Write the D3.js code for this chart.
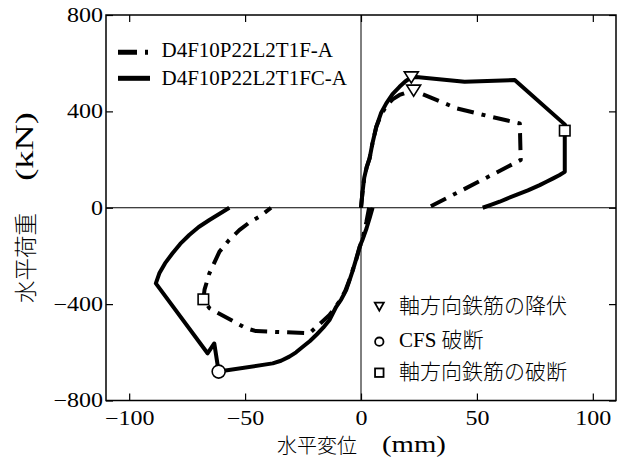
<!DOCTYPE html>
<html><head><meta charset="utf-8">
<script src="https://cdn.jsdelivr.net/npm/d3@7"></script>
<style>
body{margin:0;background:#fff}
text{font-family:"Liberation Serif","Times New Roman","Noto Sans CJK JP",serif;fill:#000}
</style></head><body>
<svg id="chart" width="622" height="459"></svg>
<script>
// Tick values
const xTicks = [-100, -50, 0, 50, 100];
const yTicks = [-800, -400, 0, 400, 800];

// D4F10P22L2T1FC-A (solid): positive half-cycle and negative half-cycle, [displacement mm, load kN]
const fcPositive = [[0,0],[0.6,60],[1.4,125],[2.5,170],[3.7,205],[5,270],[6.6,336],[8.6,392],[10.9,433],[13.6,472],[16.6,502],[19.2,525],[21.7,541],[23.8,543],[44.7,523],[66.3,530],[88,345],[87.9,320],[87.9,149],[85.5,135],[82.9,122],[80,108],[77.1,94],[72,72],[67,53],[63,38],[59.8,25],[56,12],[52.5,0]];
const fcNegative = [[5,0],[3.8,-40],[2.4,-85],[0.6,-134],[-0.6,-162],[-2,-210],[-3.5,-259],[-5,-302],[-6.4,-342],[-8.5,-380],[-10.7,-411],[-13.6,-466],[-16.3,-498],[-19,-525],[-22,-553],[-25.1,-577],[-28,-600],[-30.9,-618],[-34.5,-635],[-38.1,-646],[-61.4,-680],[-63.3,-563],[-66.2,-604],[-88.5,-314],[-87,-272],[-84.5,-230],[-81.3,-189],[-78,-150],[-74.1,-113],[-70,-80],[-65.4,-51],[-61,-25],[-56.8,0]];

// D4F10P22L2T1F-A (dash-dot)
const fPositive = [[0,0],[0.6,60],[1.4,125],[2.5,170],[3.7,205],[5,270],[6.6,336],[8.6,385],[10.9,422],[13.6,450],[16.6,468],[19.5,478],[22.7,486],[32,450],[41.1,413],[55,380],[68.5,350],[68.9,198],[28.9,0]];
const fNegative = [[3.5,0],[2.3,-60],[0.8,-125],[-0.6,-165],[-2,-213],[-3.7,-262],[-5.2,-305],[-6.8,-345],[-8.7,-380],[-10.7,-408],[-13.6,-445],[-22.2,-521],[-35,-516],[-45.3,-512],[-49.6,-500],[-65.4,-417],[-68,-380],[-67.5,-340],[-65.4,-272],[-61.1,-183],[-57,-135],[-52.5,-93],[-48,-60],[-43.8,-37],[-38.8,0]];

// Event markers
const yieldPoints = [[21.7,541],[22.7,486]];      // 軸方向鉄筋の降伏
const cfsRupturePoints = [[-61.4,-680]];          // CFS 破断
const barRupturePoints = [[87.9,320],[-68,-380]];  // 軸方向鉄筋の破断

const seriesNames = ["D4F10P22L2T1F-A", "D4F10P22L2T1FC-A"];
const markerNames = ["軸方向鉄筋の降伏", "CFS 破断", "軸方向鉄筋の破断"];

const svg = d3.select("#chart");
const plotL = 106, plotR = 616, plotT = 15, plotB = 400.5;
const x = d3.scaleLinear().domain([-110, 110]).range([plotL, plotR]);
const y = d3.scaleLinear().domain([-800, 800]).range([plotB, plotT]);

// stretch serif labels horizontally
function widen(sel, k) {
  sel.each(function () {
    const w = this.getComputedTextLength();
    d3.select(this).attr("textLength", w * k).attr("lengthAdjust", "spacingAndGlyphs");
  });
}

// zero lines
svg.append("line").attr("x1", plotL).attr("x2", plotR).attr("y1", y(0)).attr("y2", y(0))
  .attr("stroke", "#000").attr("stroke-width", 1);
svg.append("line").attr("x1", x(0)).attr("x2", x(0)).attr("y1", plotT).attr("y2", plotB)
  .attr("stroke", "#000").attr("stroke-width", 1);

// axes with inward ticks on all four sides
const fmt = d3.format("d");
const gB = svg.append("g").attr("transform", `translate(0,${plotB})`)
  .call(d3.axisBottom(x).tickValues(xTicks).tickSize(-7).tickPadding(10).tickFormat(fmt));
const gT = svg.append("g").attr("transform", `translate(0,${plotT})`)
  .call(d3.axisTop(x).tickValues(xTicks).tickSize(-7).tickFormat(""));
const gL = svg.append("g").attr("transform", `translate(${plotL},0)`)
  .call(d3.axisLeft(y).tickValues(yTicks).tickSize(-7).tickPadding(3).tickFormat(fmt));
const gR = svg.append("g").attr("transform", `translate(${plotR},0)`)
  .call(d3.axisRight(y).tickValues(yTicks).tickSize(-7).tickFormat(""));
[gB, gT, gL, gR].forEach(g => {
  g.attr("font-size", 20).attr("font-family", null);
  g.select(".domain").remove();
  g.selectAll(".tick line").attr("stroke-width", 1.2);
});
widen(gB.selectAll("text"), 1.2);
widen(gL.selectAll("text"), 1.2);

// frame
svg.append("rect").attr("x", plotL).attr("y", plotT).attr("width", plotR - plotL).attr("height", plotB - plotT)
  .attr("fill", "none").attr("stroke", "#000").attr("stroke-width", 1.5);

// curves
const line = d3.line().x(d => x(d[0])).y(d => y(d[1]));
const dashPattern = "17,8,4,8";
[fPositive, fNegative].forEach(d => {
  svg.append("path").attr("d", line(d)).attr("fill", "none").attr("stroke", "#000")
    .attr("stroke-width", 4).attr("stroke-dasharray", dashPattern).attr("stroke-linejoin", "round");
});
[fcPositive, fcNegative].forEach(d => {
  svg.append("path").attr("d", line(d)).attr("fill", "none").attr("stroke", "#000")
    .attr("stroke-width", 4).attr("stroke-linejoin", "round");
});

// marker shapes
function triangle(g, cx, cy, w, h, sw) {
  g.append("path").attr("d", `M${cx - w / 2},${cy - h / 2}L${cx + w / 2},${cy - h / 2}L${cx},${cy + h / 2}Z`)
    .attr("fill", "#fff").attr("stroke", "#000").attr("stroke-width", sw);
}
function circle(g, cx, cy, r, sw) {
  g.append("circle").attr("cx", cx).attr("cy", cy).attr("r", r)
    .attr("fill", "#fff").attr("stroke", "#000").attr("stroke-width", sw);
}
function square(g, cx, cy, s, sw) {
  g.append("rect").attr("x", cx - s / 2).attr("y", cy - s / 2).attr("width", s).attr("height", s)
    .attr("fill", "#fff").attr("stroke", "#000").attr("stroke-width", sw);
}
const gm = svg.append("g");
yieldPoints.forEach(p => triangle(gm, x(p[0]), y(p[1]), 14, 11, 1.6));
cfsRupturePoints.forEach(p => circle(gm, x(p[0]), y(p[1]), 6.5, 1.6));
barRupturePoints.forEach(p => square(gm, x(p[0]), y(p[1]), 10.5, 1.6));

// series legend (top left)
const gl = svg.append("g");
gl.append("line").attr("x1", 118).attr("x2", 151).attr("y1", 52.3).attr("y2", 52.3)
  .attr("stroke", "#000").attr("stroke-width", 5).attr("stroke-dasharray", "19,8,3,8");
gl.append("line").attr("x1", 118).attr("x2", 150).attr("y1", 78.3).attr("y2", 78.3)
  .attr("stroke", "#000").attr("stroke-width", 5);
gl.append("text").attr("x", 161.5).attr("y", 57).attr("font-size", 21).text(seriesNames[0]);
gl.append("text").attr("x", 161.5).attr("y", 85).attr("font-size", 21).text(seriesNames[1]);

// marker legend (bottom right)
const gk = svg.append("g");
triangle(gk, 379.3, 306.7, 9, 8, 1.8);
circle(gk, 379.3, 341.7, 4.2, 1.8);
square(gk, 379.3, 372.7, 8.5, 1.8);
const legendY = [313, 347, 378.5];
markerNames.forEach((t, i) => {
  gk.append("text").attr("x", 399).attr("y", legendY[i]).attr("font-size", 21)
    .attr("font-weight", 300).text(t);
});

// axis titles
svg.append("text").attr("x", 317).attr("y", 453).attr("text-anchor", "middle")
  .attr("font-size", 20).attr("font-weight", 300).text("水平変位");
const xu = svg.append("text").attr("x", 414).attr("y", 452).attr("text-anchor", "middle")
  .attr("font-size", 23).text("(mm)");
widen(xu, 1.25);

const yt = svg.append("g").attr("transform", "translate(33.5,0) rotate(-90)");
yt.append("text").attr("x", -258).attr("y", 0).attr("text-anchor", "middle")
  .attr("font-size", 22.5).attr("font-weight", 300).text("水平荷重");
const yu = yt.append("text").attr("x", -146.5).attr("y", -1).attr("text-anchor", "middle")
  .attr("font-size", 25).text("(kN)");
widen(yu, 1.45);
</script></body></html>
